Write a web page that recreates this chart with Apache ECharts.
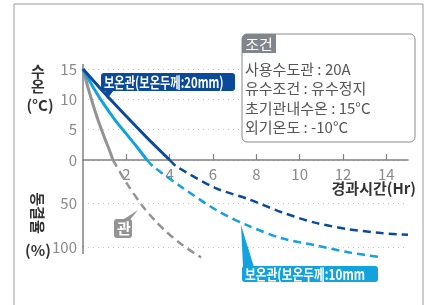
<!DOCTYPE html>
<html>
<head>
<meta charset="utf-8">
<script src="https://cdn.jsdelivr.net/npm/echarts@6/dist/echarts.min.js"></script>
<style>
html, body { margin: 0; padding: 0; background: #fff; }
#chart { width: 429px; height: 305px; }
</style>
</head>
<body>
<div id="chart"></div>
<script>
var FONT = '"Noto Sans CJK KR", "Noto Sans", sans-serif';

// 경과시간 눈금 (Hr)
var hourTicks = [2, 4, 6, 8, 10, 12, 14];
// 수온 눈금 (°C) / 동결율 눈금 (%)
var tempTicks = [0, 5, 10, 15];
var freezeTicks = [50, 100];

// 수온 변화 (실선) [시간, °C]
var tempBare = [[0, 15], [0.25, 11.7], [0.5, 8.7], [0.75, 6.0], [1.0, 3.6], [1.2, 1.8], [1.38, 0]];
var temp10 = [[0, 15], [0.5, 11.8], [1.0, 9.0], [1.5, 6.5], [2.0, 4.3], [2.5, 2.1], [2.95, 0]];
var temp20 = [[0, 15], [1, 11.0], [2, 7.2], [3, 3.5], [4, 0]];

// 동결율 변화 (점선) [시간, %]
var freezeBare = [[1.38, 0], [2.0, 26], [2.72, 52], [3.3, 69], [3.87, 83], [4.6, 98], [5.45, 112]];
var freeze10 = [[2.95, 0], [3.25, 7.7], [4.64, 32.7], [6.25, 59], [7.63, 75.5], [9.17, 90], [10.7, 98], [12.24, 106], [13.8, 112]];
var freeze20 = [[4, 0], [4.33, 7.7], [6.1, 32], [7.63, 45], [9.17, 60], [10.7, 72], [12.24, 79.5], [13.78, 84], [15, 86]];

var GREY = '#939393';
var CYAN = '#12a3df';
var NAVY = '#0b4a9b';

var myChart = echarts.init(document.getElementById('chart'));

function solid(data, color) {
    return {
        type: 'line', xAxisIndex: 0, yAxisIndex: 0, data: data,
        smooth: 0.3, symbol: 'none', clip: false,
        lineStyle: { color: color, width: 3 }
    };
}

function dashed(data, color) {
    return {
        type: 'line', xAxisIndex: 1, yAxisIndex: 1, data: data,
        smooth: 0.3, symbol: 'none', clip: false,
        lineStyle: { color: color, width: 2.5, type: [8, 5] }
    };
}

var splitStyle = { show: true, lineStyle: { color: '#c8c8c8', width: 1, type: [1, 4] } };
var axisLineStyle = { show: true, lineStyle: { color: '#808080', width: 1.5 } };

// 말풍선 라벨
function bubble(x, y, w, h, color, text, tail, scaleX) {
    return [
        { type: 'polygon', shape: { points: tail }, style: { fill: color }, z: 10 },
        { type: 'rect', shape: { x: x, y: y, width: w, height: h, r: 3 }, style: { fill: color }, z: 10 },
        {
            type: 'text', x: x + 3, y: y + h / 2, scaleX: scaleX || 1, z: 11,
            style: { text: text, fill: '#fff', font: 'bold 15px ' + FONT, verticalAlign: 'middle' }
        }
    ];
}

var graphics = [
    // 바깥 테두리
    { type: 'polyline', shape: { points: [[14, 310], [14, 4], [423, 4], [423, 310]] },
      style: { stroke: '#9a9a9a', lineWidth: 1, fill: null } },
    // 세로축 연장
    { type: 'line', shape: { x1: 83, y1: 64, x2: 83, y2: 70 }, style: { stroke: '#808080', lineWidth: 1.5 } },
    { type: 'line', shape: { x1: 83, y1: 246, x2: 83, y2: 254 }, style: { stroke: '#808080', lineWidth: 1.5 } },
    // 축 이름
    { type: 'text', x: 38, y: 71, style: { text: '수', font: 'bold 15px ' + FONT, fill: '#333', align: 'center', verticalAlign: 'middle' } },
    { type: 'text', x: 38, y: 86, style: { text: '온', font: 'bold 15px ' + FONT, fill: '#333', align: 'center', verticalAlign: 'middle' } },
    { type: 'text', x: 40, y: 105, style: { text: '(°C)', font: 'bold 15px ' + FONT, fill: '#333', align: 'center', verticalAlign: 'middle' } },
    { type: 'text', x: 38, y: 213, rotation: -Math.PI / 2, style: { text: '동결율', font: 'bold 15px ' + FONT, fill: '#333', align: 'center', verticalAlign: 'middle' } },
    { type: 'text', x: 38, y: 250, style: { text: '(%)', font: 'bold 15px ' + FONT, fill: '#333', align: 'center', verticalAlign: 'middle' } },
    { type: 'text', x: 416, y: 188, style: { text: '경과시간(Hr)', font: 'bold 15px ' + FONT, fill: '#333', align: 'right', verticalAlign: 'middle' } },
    // 조건 박스
    { type: 'rect', shape: { x: 242, y: 34, width: 173, height: 108, r: 5 },
      style: { fill: '#fff', stroke: '#8a8a8a', lineWidth: 1 }, z: 5 },
    { type: 'rect', shape: { x: 242, y: 34, width: 34, height: 19, r: [5, 0, 0, 0] },
      style: { fill: '#80868c' }, z: 6 },
    { type: 'text', x: 259, y: 44, z: 7, style: { text: '조건', font: '15px ' + FONT, fill: '#fff', align: 'center', verticalAlign: 'middle' } },
    { type: 'text', x: 245, y: 69, z: 7, style: { text: '사용수도관 : 20A', font: '15px ' + FONT, fill: '#555', verticalAlign: 'middle' } },
    { type: 'text', x: 245, y: 88.5, z: 7, style: { text: '유수조건 : 유수정지', font: '15px ' + FONT, fill: '#555', verticalAlign: 'middle' } },
    { type: 'text', x: 245, y: 108, z: 7, style: { text: '초기관내수온 : 15°C', font: '15px ' + FONT, fill: '#555', verticalAlign: 'middle' } },
    { type: 'text', x: 245, y: 127.5, z: 7, style: { text: '외기온도 : -10°C', font: '15px ' + FONT, fill: '#555', verticalAlign: 'middle' } }
];

graphics = graphics
    .concat(bubble(101, 73, 134, 18, NAVY, '보온관(보온두께:20mm)', [[105, 90], [114, 90], [107, 99]], 0.75))
    .concat(bubble(242, 266, 136, 16, CYAN, '보온관(보온두께:10mm', [[243, 267], [254, 267], [241, 225]], 0.78))
    .concat(bubble(114, 219, 18, 19, GREY, '관', [[121, 221], [129, 221], [138, 210]], 1));

var option = {
    animation: false,
    textStyle: { fontFamily: FONT },
    grid: [
        { left: 83, top: 69, width: 325, height: 91 },
        { left: 83, top: 160, width: 325, height: 87 }
    ],
    xAxis: [
        {
            gridIndex: 0, type: 'value', min: 0, max: 15, interval: 1,
            axisLine: { show: true, onZero: false, lineStyle: { color: '#808080', width: 1.5 } },
            axisTick: { show: true, inside: true, length: 6, customValues: hourTicks, lineStyle: { color: '#808080', width: 1.2 } },
            axisLabel: { customValues: hourTicks, color: '#8a8a8a', fontSize: 15, margin: 7, fontFamily: FONT },
            splitLine: { show: false }
        },
        {
            gridIndex: 1, type: 'value', min: 0, max: 15, show: false
        }
    ],
    yAxis: [
        {
            gridIndex: 0, type: 'value', min: 0, max: 15, interval: 5,
            axisLine: axisLineStyle,
            axisTick: { show: false },
            axisLabel: { customValues: tempTicks, color: '#8a8a8a', fontSize: 15, margin: 6, fontFamily: FONT },
            splitLine: splitStyle
        },
        {
            gridIndex: 1, type: 'value', min: 0, max: 100, interval: 50, inverse: true,
            axisLine: axisLineStyle,
            axisTick: { show: false },
            axisLabel: { customValues: freezeTicks, color: '#8a8a8a', fontSize: 15, margin: 6, fontFamily: FONT },
            splitLine: splitStyle
        }
    ],
    series: [
        solid(tempBare, GREY),
        solid(temp10, CYAN),
        solid(temp20, NAVY),
        dashed(freezeBare, GREY),
        dashed(freeze10, CYAN),
        dashed(freeze20, NAVY)
    ],
    graphic: graphics
};

myChart.setOption(option);
</script>
</body>
</html>
